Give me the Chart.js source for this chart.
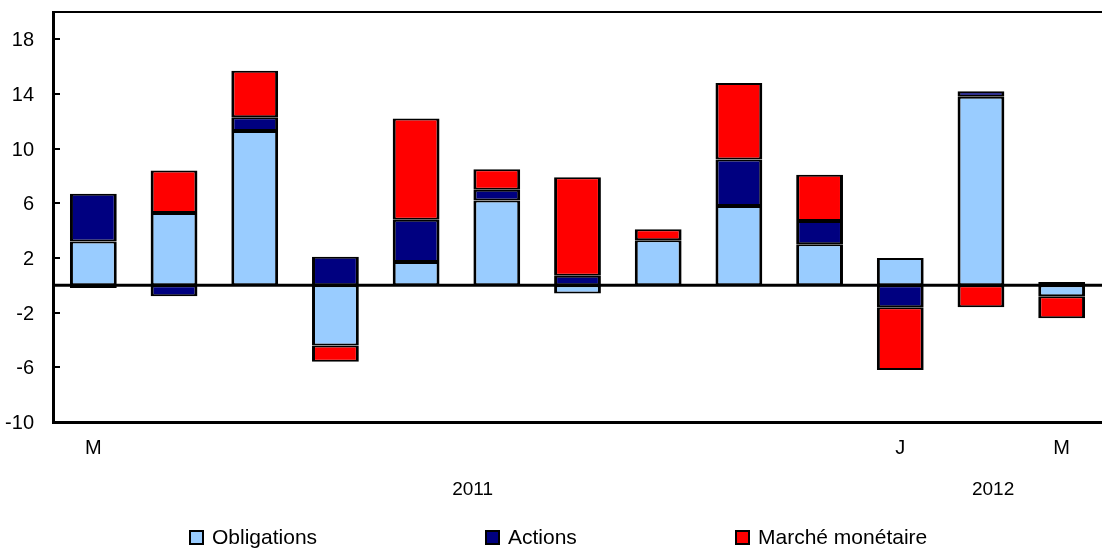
<!DOCTYPE html>
<html>
<head>
<meta charset="utf-8">
<script src="https://cdn.jsdelivr.net/npm/chart.js@4.4.1/dist/chart.umd.min.js"></script>
<style>
    html, body { margin: 0; padding: 0; background: #ffffff; }
    #wrap { width: 1102px; height: 548px; position: relative; }
</style>
</head>
<body>
<div id="wrap"><canvas id="flowChart"></canvas></div>
<script>
// ===============================
// DATA
// ===============================
const months = ["M", "A", "M", "J", "J", "A", "S", "O", "N", "D", "J", "F", "M"];
const shownMonths = [0, 10, 12];

const obligations = [3.2, 5.3, 11.3, -4.4, 1.7, 6.2, -0.6, 3.3, 5.8, 3.0, 2.0, 13.8, -0.8];
const actions = [3.5, -0.8, 1.0, 2.1, 3.1, 0.8, 0.7, 0.0, 3.4, 1.7, -1.6, 0.4, 0.25];
const marcheMonetaire = [-0.2, 3.1, 3.4, -1.2, 7.4, 1.5, 7.2, 0.8, 5.6, 3.4, -4.6, -1.6, -1.6];

const seriesNames = ["Obligations", "Actions", "Marché monétaire"];
const seriesColors = ["#99ccff", "#000080", "#ff0000"];

const yTicks = [-10, -6, -2, 2, 6, 10, 14, 18];

const years = ["2011", "2012"];
const yearAt = [4.7, 11.15];   // position along the category axis

const FONT = "Liberation Sans, Arial, sans-serif";


// ===============================
// EXTRA DRAWING (frame, y ticks, zero line, years, legend)
// ===============================
const decorPlugin = {
    id: "decor",
    afterDatasetsDraw(chart) {
        const ctx = chart.ctx;
        const area = chart.chartArea;
        const y = chart.scales.y;
        const x = chart.scales.x;

        ctx.save();
        ctx.strokeStyle = "#000000";
        ctx.fillStyle = "#000000";

        // top frame line
        ctx.lineWidth = 2;
        ctx.beginPath();
        ctx.moveTo(area.left, area.top);
        ctx.lineTo(area.right, area.top);
        ctx.stroke();

        // y ticks: inward marks + labels
        ctx.font = "20px " + FONT;
        ctx.textAlign = "right";
        ctx.textBaseline = "middle";
        yTicks.forEach(v => {
            const py = Math.round(y.getPixelForValue(v));
            ctx.beginPath();
            ctx.moveTo(area.left, py);
            ctx.lineTo(area.left + 7, py);
            ctx.stroke();
            ctx.fillText(String(v), area.left - 19, py + 1);
        });

        // zero line
        const y0 = y.getPixelForValue(0);
        ctx.lineWidth = 3;
        ctx.beginPath();
        ctx.moveTo(area.left, y0);
        ctx.lineTo(area.right, y0);
        ctx.stroke();

        // year labels
        ctx.font = "19px " + FONT;
        ctx.textAlign = "center";
        years.forEach((yr, i) => {
            ctx.fillText(yr, x.getPixelForValue(yearAt[i]), 490);
        });

        // legend
        const legendX = [190, 486, 736];
        ctx.font = "21px " + FONT;
        ctx.textAlign = "left";
        seriesNames.forEach((name, i) => {
            ctx.fillStyle = seriesColors[i];
            ctx.fillRect(legendX[i], 531, 13, 13);
            ctx.lineWidth = 2;
            ctx.strokeRect(legendX[i], 531, 13, 13);
            ctx.fillStyle = "#000000";
            ctx.fillText(name, legendX[i] + 22, 538);
        });

        ctx.restore();
    }
};


// ===============================
// CHART
// ===============================
const ctx = document.getElementById("flowChart").getContext("2d");

new Chart(ctx, {
    type: "bar",
    data: {
        labels: months,
        datasets: [
            { label: seriesNames[0], data: obligations, backgroundColor: seriesColors[0] },
            { label: seriesNames[1], data: actions, backgroundColor: seriesColors[1] },
            { label: seriesNames[2], data: marcheMonetaire, backgroundColor: seriesColors[2] }
        ].map(ds => Object.assign(ds, {
            borderColor: "#000000",
            borderWidth: { left: 3, right: 3, top: 2, bottom: 2 },
            borderSkipped: false,
            barPercentage: 0.58,
            categoryPercentage: 1.0
        }))
    },
    options: {
        responsive: true,
        maintainAspectRatio: false,
        animation: false,
        layout: {
            padding: { top: 12, right: 0, bottom: 46, left: 0 }
        },
        plugins: {
            legend: { display: false },
            tooltip: { enabled: false }
        },
        scales: {
            x: {
                stacked: true,
                grid: { display: false },
                border: { color: "#000000", width: 3 },
                ticks: {
                    color: "#000000",
                    font: { family: FONT, size: 20 },
                    padding: 6,
                    autoSkip: false,
                    maxRotation: 0,
                    callback: function (value, index) {
                        return shownMonths.includes(index) ? months[index] : "";
                    }
                },
                afterFit: function (scale) {
                    scale.height = 80;
                }
            },
            y: {
                stacked: true,
                min: -10,
                max: 20,
                grid: { display: false },
                border: { color: "#000000", width: 3 },
                ticks: { display: false },
                afterBuildTicks: function (scale) {
                    scale.ticks = yTicks.map(v => ({ value: v }));
                },
                afterFit: function (scale) {
                    scale.width = 53;
                }
            }
        }
    },
    plugins: [decorPlugin]
});
</script>
</body>
</html>
